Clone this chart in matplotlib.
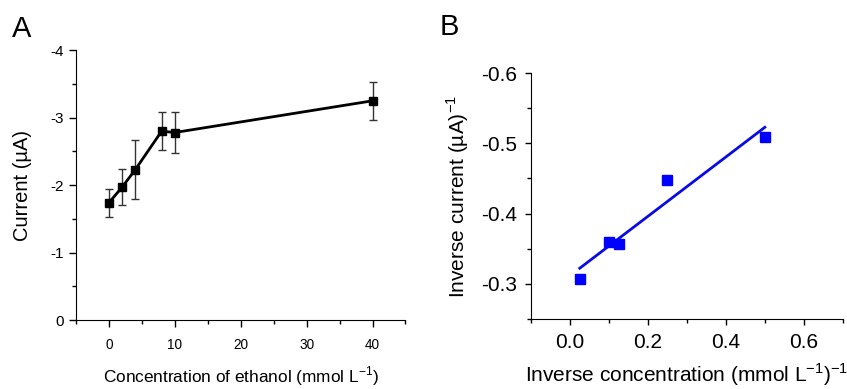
import numpy as np
import matplotlib
matplotlib.use("Agg")
import matplotlib.pyplot as plt
from matplotlib.ticker import MultipleLocator, FuncFormatter

plt.rcParams['font.family'] = ['Liberation Sans', 'DejaVu Sans']
plt.rcParams['mathtext.fontset'] = 'custom'
plt.rcParams['mathtext.rm'] = 'Liberation Sans'

# Panel A data
conc = [0, 2, 4, 8, 10, 40]
current = [-1.74, -1.97, -2.23, -2.80, -2.78, -3.25]
current_err = [0.21, 0.27, 0.44, 0.28, 0.30, 0.28]

# Panel B data
inv_conc = [0.025, 0.1, 0.125, 0.25, 0.5]
inv_current = [-0.307, -0.360, -0.357, -0.448, -0.509]

fig = plt.figure(figsize=(8.47, 3.89), dpi=100)

# ---------- Panel A ----------
axA = fig.add_axes([0.0897, 0.177, 0.389, 0.694])
axA.errorbar(conc, current, yerr=current_err, fmt='none', ecolor='#333333',
             elinewidth=1, capsize=3, capthick=1, zorder=2)
axA.plot(conc, current, color='black', lw=2, marker='s', ms=6, zorder=3)
axA.set_xlim(-5, 45)
axA.set_ylim(0, -4)
axA.xaxis.set_major_locator(MultipleLocator(10))
axA.xaxis.set_minor_locator(MultipleLocator(5))
axA.yaxis.set_major_locator(MultipleLocator(1))
axA.yaxis.set_minor_locator(MultipleLocator(0.5))
axA.yaxis.set_major_formatter(FuncFormatter(lambda v, p: f"{v:g}"))
axA.xaxis.set_major_formatter(FuncFormatter(lambda v, p: f"{v:g}"))
for s in ['top', 'right']:
    axA.spines[s].set_visible(False)
axA.tick_params(axis='x', which='major', length=5, width=1, labelsize=9.8, pad=8)
axA.tick_params(axis='y', which='major', length=5, width=1, labelsize=11, pad=4)
axA.tick_params(which='minor', length=3, width=1)
axA.set_xlabel('Concentration of ethanol (mmol L$^{\\mathregular{-1}}$)', fontsize=12.4, labelpad=9)
axA.set_ylabel('Current (\u00b5A)', fontsize=14.5, labelpad=13)
fig.text(0.014, 1 - 37 / 389, 'A', fontsize=21, ha='left', va='baseline')

# ---------- Panel B ----------
axB = fig.add_axes([0.627, 0.180, 0.368, 0.632])
axB.plot(inv_conc, inv_current, linestyle='none', marker='s', ms=6.5,
         color='#0000ff', zorder=3)
coef = np.polyfit(inv_conc, inv_current, 1)
xfit = np.array([min(inv_conc), max(inv_conc)])
axB.plot(xfit, np.polyval(coef, xfit), color='#0a0ae6', lw=2, zorder=2)
axB.set_xlim(-0.1, 0.7)
axB.set_ylim(-0.25, -0.6)
axB.xaxis.set_major_locator(MultipleLocator(0.2))
axB.xaxis.set_minor_locator(MultipleLocator(0.1))
axB.yaxis.set_major_locator(MultipleLocator(0.1))
axB.yaxis.set_minor_locator(MultipleLocator(0.05))
axB.xaxis.set_major_formatter(FuncFormatter(lambda v, p: f"{v:.1f}"))
axB.yaxis.set_major_formatter(FuncFormatter(lambda v, p: f"{v:.1f}"))
for s in ['top', 'right']:
    axB.spines[s].set_visible(False)
axB.tick_params(which='major', length=4, width=1, labelsize=15, pad=6)
axB.tick_params(which='minor', length=3, width=1)
axB.set_xlabel('Inverse concentration (mmol L$^{\\mathregular{-1}}$)$^{\\mathregular{-1}}$', fontsize=15, labelpad=7)
axB.set_ylabel('Inverse current (\u00b5A)$^{\\mathregular{-1}}$', fontsize=15, labelpad=7)
fig.text(0.519, 1 - 35 / 389, 'B', fontsize=21, ha='left', va='baseline')

fig.savefig('out.png', dpi=100)
